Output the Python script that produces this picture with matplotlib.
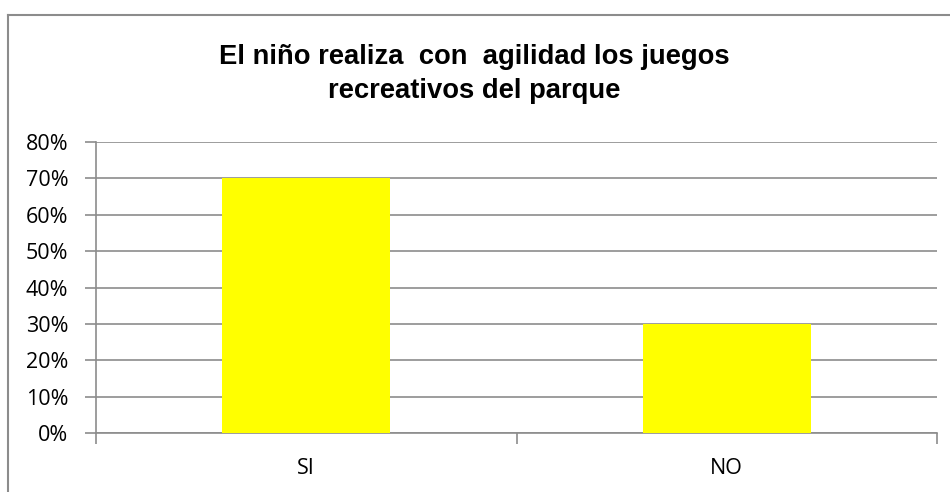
import matplotlib.pyplot as plt
from matplotlib.lines import Line2D
from matplotlib.ticker import PercentFormatter

# survey answers and share of children
categories = ['SI', 'NO']
shares = [0.70, 0.30]
y_ticks = [0, 0.1, 0.2, 0.3, 0.4, 0.5, 0.6, 0.7, 0.8]
title = 'El niño realiza  con  agilidad los juegos\nrecreativos del parque'

grey = '#8c8c8c'
W, H = 950, 492

fig = plt.figure(figsize=(W / 100, H / 100), dpi=100)
ax = fig.add_axes([96 / W, (H - 433) / H, (937 - 96) / W, (433 - 142) / H])

x = range(len(categories))
ax.bar(x, shares, width=0.4, color='#ffff00', zorder=3)

ax.set_xlim(-0.5, len(categories) - 0.5)
ax.set_ylim(0, 0.8)
ax.set_yticks(y_ticks)
ax.yaxis.set_major_formatter(PercentFormatter(1.0, decimals=0))
ax.grid(axis='y', color=grey, linewidth=1.2, zorder=0)

ax.set_xticks(list(x))
ax.set_xticklabels(categories)
ax.set_xticks([-0.5, 0.5, 1.5], minor=True)
ax.tick_params(axis='x', which='major', length=0, pad=18)
ax.tick_params(axis='x', which='minor', length=8, width=1.2, color=grey)
ax.tick_params(axis='y', length=8, width=1.2, color=grey, pad=12)
for lab in ax.get_xticklabels() + ax.get_yticklabels():
    lab.set_fontfamily('Open Sans')
    lab.set_fontsize(15.5)

for s in ['top', 'right']:
    ax.spines[s].set_visible(False)
for s in ['left', 'bottom']:
    ax.spines[s].set_color(grey)
    ax.spines[s].set_linewidth(1.2)

fig.text(474 / W, 1 - 74 / H, title, ha='center', va='center',
         fontsize=19.7, fontweight='bold', family='Liberation Sans',
         linespacing=1.36)

# chart frame
fig.add_artist(Line2D([8 / W, 8 / W], [0, 1 - 15 / H], transform=fig.transFigure,
                      color=grey, linewidth=1.5))
fig.add_artist(Line2D([8 / W, 1], [1 - 15 / H, 1 - 15 / H], transform=fig.transFigure,
                      color=grey, linewidth=1.5))

fig.savefig('out.png', dpi=100)
